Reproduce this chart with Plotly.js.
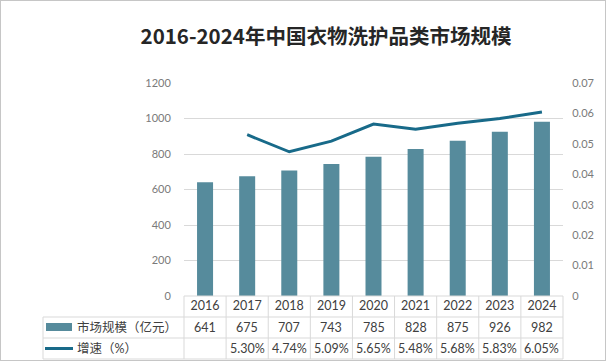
<!DOCTYPE html>
<html>
<head>
<meta charset="utf-8">
<script src="https://cdn.plot.ly/plotly-3.0.1.min.js"></script>
<style>
html,body{margin:0;padding:0;background:#fff;}
#wrap{position:relative;width:606px;height:361px;}
#chart{width:606px;height:361px;}
#frame{position:absolute;left:0;top:0;width:604px;height:359px;border:1px solid #c6c6c6;pointer-events:none;}
</style>
</head>
<body>
<div id="wrap"><div id="chart"></div><div id="frame"></div></div>
<script>
const titleText = "2016-2024年中国衣物洗护品类市场规模";
const years = ["2016","2017","2018","2019","2020","2021","2022","2023","2024"];
const marketSize = [641, 675, 707, 743, 785, 828, 875, 926, 982];
const growth = [null, 0.0530, 0.0474, 0.0509, 0.0565, 0.0548, 0.0568, 0.0583, 0.0605];
const growthLabels = ["", "5.30%", "4.74%", "5.09%", "5.65%", "5.48%", "5.68%", "5.83%", "6.05%"];
const sizeName = "市场规模（亿元）";
const growthName = "增速（%）";
const leftTicks = [0, 200, 400, 600, 800, 1000, 1200];
const rightTicks = [0, 0.01, 0.02, 0.03, 0.04, 0.05, 0.06, 0.07];

const barColor = "#568b9c";
const lineColor = "#186a89";
const textColor = "#404040";
const tickColor = "#7a7a7a";
const gridColor = "#d9d9d9";
const FONT = "Lato, 'Noto Sans CJK SC', sans-serif";

// geometry (pixels)
const W = 606, H = 361;
const L = 184, R = 563, T = 83, B = 296;
const pw = R - L, ph = B - T;
const px = v => (v - L) / pw;
const py = v => (B - v) / ph;

const rowTop2 = 317, rowTop3 = 338, rowBot = 359, tableLeft = 43;

const shapes = [];
const lineStyle = {color: gridColor, width: 1};
shapes.push({type:'line', xref:'paper', yref:'paper', x0:0, x1:1, y0:0, y1:0, line:lineStyle});
[rowTop2, rowTop3, rowBot].forEach(y => {
  shapes.push({type:'line', xref:'paper', yref:'paper', x0:px(tableLeft), x1:1, y0:py(y), y1:py(y), line:lineStyle});
});
shapes.push({type:'line', xref:'paper', yref:'paper', x0:px(tableLeft), x1:px(tableLeft), y0:py(rowTop2), y1:py(rowBot), line:lineStyle});
for (let i = 0; i <= years.length; i++) {
  const x = i / years.length;
  shapes.push({type:'line', xref:'paper', yref:'paper', x0:x, x1:x, y0:0, y1:py(rowBot), line:lineStyle});
}
shapes.push({type:'rect', xref:'paper', yref:'paper', x0:px(46), x1:px(72), y0:py(323), y1:py(331),
  fillcolor:barColor, line:{width:0}});
shapes.push({type:'line', xref:'paper', yref:'paper', x0:px(45), x1:px(73), y0:py(348.5), y1:py(348.5),
  line:{color:lineColor, width:3}});

const annotations = [];
const row2y = py((rowTop2 + rowTop3) / 2);
const row3y = py((rowTop3 + rowBot) / 2);
years.forEach((yr, i) => {
  annotations.push({xref:'x', yref:'paper', x:i, y:row2y, text:String(marketSize[i]), showarrow:false,
    xanchor:'center', yanchor:'middle', font:{family:FONT, size:12.5, color:textColor}});
  if (growthLabels[i]) annotations.push({xref:'x', yref:'paper', x:i, y:row3y, text:growthLabels[i], showarrow:false,
    xanchor:'center', yanchor:'middle', font:{family:FONT, size:12.5, color:textColor}});
});
annotations.push({xref:'paper', yref:'paper', x:px(75), y:row2y, text:sizeName, showarrow:false,
  xanchor:'left', yanchor:'middle', font:{family:FONT, size:12.5, color:textColor}});
annotations.push({xref:'paper', yref:'paper', x:px(75), y:row3y, text:growthName, showarrow:false,
  xanchor:'left', yanchor:'middle', font:{family:FONT, size:12.5, color:textColor}});

const data = [
  {type:'bar', x:years, y:marketSize, name:sizeName, marker:{color:barColor}, yaxis:'y', hoverinfo:'skip'},
  {type:'scatter', mode:'lines', x:years, y:growth, name:growthName, yaxis:'y2',
   line:{color:lineColor, width:3}, connectgaps:false, hoverinfo:'skip'}
];

const layout = {
  width: W, height: H,
  margin: {l:L, r:W-R, t:T, b:H-B, pad:0},
  paper_bgcolor:'#fff', plot_bgcolor:'#fff',
  showlegend:false,
  bargap:0.62,
  font:{family:FONT, color:textColor},
  title:{text:titleText, x:326/W, xanchor:'center', y:1-37/H, yanchor:'middle',
    font:{family:"'Noto Sans CJK SC', Lato, sans-serif", size:20.5, color:'#262626', weight:'bold'}},
  xaxis:{type:'category', categoryorder:'array', categoryarray:years, range:[-0.5, years.length-0.5],
    autorange:false, showgrid:false, zeroline:false, showline:false,
    ticks:'', ticklen:0,
    tickfont:{family:FONT, size:12.5, color:textColor}, fixedrange:true},
  yaxis:{range:[0,1200], autorange:false, tickvals:leftTicks, ticktext:leftTicks.map(String),
    showgrid:true, gridcolor:gridColor, gridwidth:1, zeroline:false, showline:false,
    ticks:'outside', ticklen:10, tickcolor:'rgba(0,0,0,0)',
    tickfont:{family:FONT, size:11, color:tickColor}, fixedrange:true},
  yaxis2:{range:[0,0.07], autorange:false, overlaying:'y', side:'right', tickvals:rightTicks, ticktext:rightTicks.map(String),
    showgrid:false, zeroline:false, showline:false,
    ticks:'outside', ticklen:6, tickcolor:'rgba(0,0,0,0)',
    tickfont:{family:FONT, size:11, color:tickColor}, fixedrange:true},
  shapes: shapes,
  annotations: annotations
};

Plotly.newPlot('chart', data, layout, {displayModeBar:false, staticPlot:true});
</script>
</body>
</html>
